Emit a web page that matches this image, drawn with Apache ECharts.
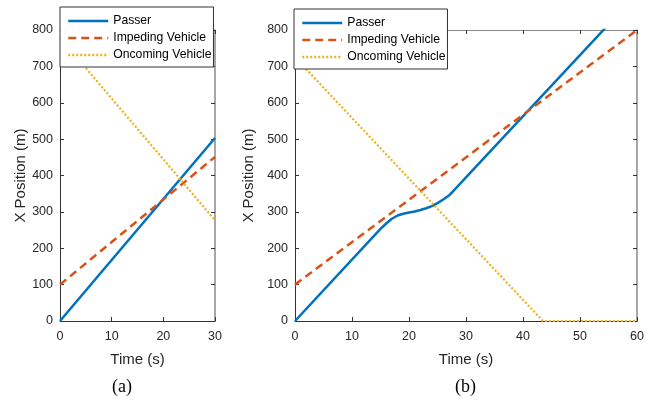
<!DOCTYPE html>
<html>
<head>
<meta charset="utf-8">
<script src="https://cdn.jsdelivr.net/npm/echarts@6/dist/echarts.min.js"></script>
<style>html,body{margin:0;padding:0;background:#fff}#c{width:653px;height:402px}</style>
</head>
<body>
<div id="c"></div>
<script>
// ---- data (a) ----
const aTime = [0, 30];
const aPasser = [0, 503];
const aImpeding = [100, 451];
const aOncTime = [0, 30];
const aOncoming = [779, 277];

// ---- data (b) ----
const bPasserTime = [0, 15, 16, 17, 18, 19, 20, 21, 22, 23, 24, 25, 26, 27, 28, 29, 30, 60];
const bPasser     = [0, 253, 268, 281, 290, 295, 298, 301, 305, 310, 316, 324, 334, 345, 361, 378, 395, 899];
const bImpTime = [0, 60];
const bImpeding = [100, 800];
const bOncTime = [0, 43.5, 60];
const bOncoming = [725, 0, 0];

const xTicksA = [0, 10, 20, 30];
const xTicksB = [0, 10, 20, 30, 40, 50, 60];
const yTicks = [0, 100, 200, 300, 400, 500, 600, 700, 800];

const names = ['Passer', 'Impeding Vehicle', 'Oncoming Vehicle'];
const colors = ['#0072BD', '#D95319', '#EDB120'];

function pairs(t, v) { return t.map((x, i) => [x, v[i]]); }

const FONT = 'Liberation Sans';
const axisDark = '#333';
const axisLight = '#8a8a8a';

function xAxes(gi, max) {
  return [{
    type: 'value', gridIndex: gi, min: 0, max: max, interval: 10,
    name: 'Time (s)', nameLocation: 'middle', nameGap: 31,
    nameTextStyle: { fontFamily: FONT, fontSize: 15, color: '#262626' },
    axisLine: { show: true, onZero: false, lineStyle: { color: axisDark, width: 1 } },
    axisTick: { show: true, inside: true, length: 4, lineStyle: { color: axisDark } },
    axisLabel: { fontFamily: FONT, fontSize: 12.5, color: '#262626', margin: 9 },
    splitLine: { show: false }
  }, {
    type: 'value', gridIndex: gi, position: 'top', min: 0, max: max, interval: 10,
    axisLine: { show: true, onZero: false, lineStyle: { color: axisLight, width: 1 } },
    axisTick: { show: true, inside: true, length: 4, lineStyle: { color: axisDark } },
    axisLabel: { show: false }, splitLine: { show: false }
  }];
}
function yAxes(gi) {
  return [{
    type: 'value', gridIndex: gi, min: 0, max: 800, interval: 100,
    name: 'X Position (m)', nameLocation: 'middle', nameGap: 32,
    nameTextStyle: { fontFamily: FONT, fontSize: 15, color: '#262626' },
    axisLine: { show: true, onZero: false, lineStyle: { color: axisDark, width: 1 } },
    axisTick: { show: true, inside: true, length: 4, lineStyle: { color: axisDark } },
    axisLabel: { fontFamily: FONT, fontSize: 12.5, color: '#262626', margin: 7 },
    splitLine: { show: false }
  }, {
    type: 'value', gridIndex: gi, position: 'right', min: 0, max: 800, interval: 100,
    axisLine: { show: true, onZero: false, lineStyle: { color: axisLight, width: 1.5 } },
    axisTick: { show: true, inside: true, length: 4, lineStyle: { color: axisDark } },
    axisLabel: { show: false }, splitLine: { show: false }
  }];
}

const styles = [
  { width: 2.5, type: 'solid' },
  { width: 2.5, type: [8, 5] },
  { width: 2.2, type: [2, 2] }
];

function ser(i, xi, yi, data) {
  return {
    name: names[i], type: 'line', xAxisIndex: xi, yAxisIndex: yi, data: data,
    symbol: 'none', showSymbol: false, smooth: false, clip: true, animation: false,
    lineStyle: Object.assign({ color: colors[i], cap: 'butt' }, styles[i]),
    itemStyle: { color: colors[i] }
  };
}

function legend(left, top) {
  return {
    left: left, top: top, orient: 'vertical', selectedMode: false,
    backgroundColor: '#fff', borderColor: '#333', borderWidth: 1, borderRadius: 0,
    padding: [8, 2, 6, 7], itemGap: 5, itemWidth: 40, itemHeight: 14,
    itemStyle: { opacity: 0 },
    lineStyle: { width: 2.5 },
    textStyle: { fontFamily: FONT, fontSize: 12.2, color: '#000', padding: [0, 0, 0, 0] },
    data: names.slice(),
    z: 10
  };
}

const option = {
  animation: false,
  backgroundColor: '#fff',
  grid: [
    { left: 60, right: 438, top: 30, bottom: 81, containLabel: false },
    { left: 295, right: 16, top: 30, bottom: 81, containLabel: false }
  ],
  xAxis: xAxes(0, 30).concat(xAxes(1, 60)),
  yAxis: yAxes(0).concat(yAxes(1)),
  legend: [legend(60, 7), legend(294, 9)],
  series: [
    ser(0, 0, 0, pairs(aTime, aPasser)),
    ser(1, 0, 0, pairs(aTime, aImpeding)),
    ser(2, 0, 0, pairs(aOncTime, aOncoming)),
    ser(0, 2, 2, pairs(bPasserTime, bPasser)),
    ser(1, 2, 2, pairs(bImpTime, bImpeding)),
    ser(2, 2, 2, pairs(bOncTime, bOncoming))
  ],
  graphic: [
    { type: 'text', left: 112, top: 378, style: { text: '(a)', font: '18px "Liberation Serif"', fill: '#000' } },
    { type: 'text', left: 455, top: 378, style: { text: '(b)', font: '18px "Liberation Serif"', fill: '#000' } }
  ]
};

const chart = echarts.init(document.getElementById('c'), null, { renderer: 'canvas' });
chart.setOption(option);
</script>
</body>
</html>
